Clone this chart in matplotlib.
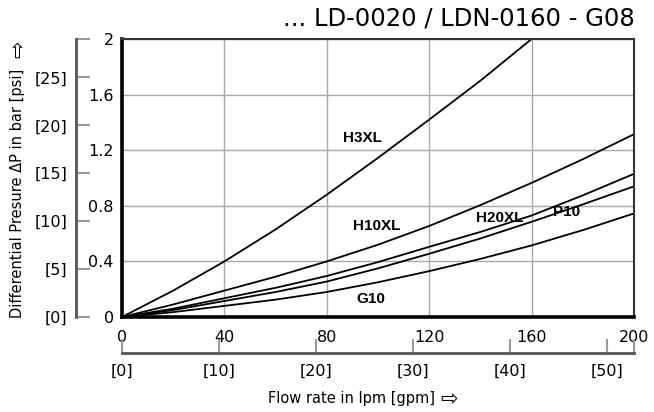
import matplotlib
matplotlib.use("Agg")
import matplotlib.pyplot as plt
from matplotlib.ticker import FixedLocator

# ---- data ----
flow_lpm = [0, 20, 40, 60, 80, 100, 120, 140, 160, 180, 200]
h3xl_flow = [0, 20, 40, 60, 80, 100, 120, 140, 160]
h3xl = [0, 0.19, 0.40, 0.63, 0.88, 1.145, 1.42, 1.70, 2.0]
h10xl = [0, 0.09, 0.19, 0.29, 0.40, 0.52, 0.655, 0.805, 0.965, 1.135, 1.315]
h20xl = [0, 0.06, 0.135, 0.21, 0.295, 0.395, 0.505, 0.612, 0.73, 0.875, 1.03]
p10 = [0, 0.05, 0.115, 0.18, 0.255, 0.35, 0.455, 0.565, 0.685, 0.81, 0.94]
g10 = [0, 0.035, 0.08, 0.125, 0.18, 0.25, 0.33, 0.418, 0.515, 0.625, 0.745]

labels = ["H3XL", "H10XL", "H20XL", "P10", "G10"]
label_pos = [(94, 1.286), (99.6, 0.654), (147.7, 0.711), (173.8, 0.754), (97.3, 0.129)]

x_ticks = [0, 40, 80, 120, 160, 200]
y_ticks = [0, 0.4, 0.8, 1.2, 1.6, 2.0]
y_ticklabels = ["0", "0.4", "0.8", "1.2", "1.6", "2"]
gpm_ticks = [0, 10, 20, 30, 40, 50]
psi_ticks = [0, 5, 10, 15, 20, 25]

title = "... LD-0020 / LDN-0160 - G08"
xlabel = "Flow rate in lpm [gpm]"
ylabel = "Differential Presure \u0394P in bar [psi]"
arrow = "\u21e8"

LPM_PER_GPM = 3.78541
BAR_TO_PSI = 14.5038

W, H = 654, 412
fig = plt.figure(figsize=(W / 100, H / 100), dpi=100)
plt.rcParams['font.family'] = ['DejaVu Sans']

L, R, T, B = 122, 634, 39, 317
ax = fig.add_axes([L / W, (H - B) / H, (R - L) / W, (B - T) / H])
ax.set_xlim(0, 200)
ax.set_ylim(0, 2)

ax.plot(h3xl_flow, h3xl, color='black', lw=1.3)
for ser in (h10xl, h20xl, p10, g10):
    ax.plot(flow_lpm, ser, color='black', lw=1.3)

for lab, (lx, ly) in zip(labels, label_pos):
    ax.text(lx, ly, lab, ha='center', va='center', fontsize=11,
            fontweight='bold', family='Liberation Sans')

ax.set_xticks(x_ticks)
ax.set_xticklabels([str(v) for v in x_ticks])
ax.set_yticks(y_ticks)
ax.set_yticklabels(y_ticklabels)
ax.tick_params(axis='x', length=0, labelsize=11.5, pad=9)
ax.tick_params(axis='y', length=0, labelsize=11.5, pad=6)
ax.grid(True, color='#a8a8a8', lw=1)
ax.set_axisbelow(True)
for s in ('left', 'bottom'):
    ax.spines[s].set_linewidth(2.6)
    ax.spines[s].set_color('black')
for s in ('top', 'right'):
    ax.spines[s].set_linewidth(1.5)
    ax.spines[s].set_color('#333333')

# secondary gpm axis
gy = 353
axg = fig.add_axes([L / W, (H - gy) / H, (R - L) / W, 0.0001])
axg.set_xlim(0, 200 / LPM_PER_GPM)
axg.set_xticks(gpm_ticks)
axg.set_xticklabels(["[%d]" % v for v in gpm_ticks])
axg.xaxis.set_minor_locator(FixedLocator([200 / LPM_PER_GPM]))
axg.set_yticks([])
axg.tick_params(axis='x', which='both', direction='in', length=10, width=1.5,
                color='#9a9a9a', labelsize=11.5, pad=8)
for s in ('top', 'left', 'right'):
    axg.spines[s].set_visible(False)
axg.spines['bottom'].set_color('#555555')
axg.spines['bottom'].set_linewidth(2)
axg.patch.set_visible(False)

# secondary psi axis
px = 76
axp = fig.add_axes([px / W, (H - B) / H, 0.0001, (B - T) / H])
axp.set_ylim(0, 2 * BAR_TO_PSI)
axp.set_yticks(psi_ticks)
axp.set_yticklabels(["[%d]" % v for v in psi_ticks])
axp.yaxis.set_minor_locator(FixedLocator([2 * BAR_TO_PSI]))
axp.set_xticks([])
axp.tick_params(axis='y', which='both', direction='in', length=10, width=1.5,
                color='#9a9a9a', labelsize=11.5, pad=6)
for s in ('top', 'bottom', 'right'):
    axp.spines[s].set_visible(False)
axp.spines['left'].set_color('#555555')
axp.spines['left'].set_linewidth(2)
axp.patch.set_visible(False)

fig.text(635 / W, 1 - 18 / H, title, ha='right', va='center', fontsize=17.5)
# x label with arrow
fig.text(268 / W, 1 - 398 / H, xlabel, ha='left', va='center', fontsize=10.5)
fig.text(440 / W, 1 - 399 / H, arrow, ha='left', va='center', fontsize=15)
# y label with arrow
fig.text(18 / W, 1 - 318 / H, ylabel, ha='center', va='bottom', fontsize=10.5,
         rotation=90)
fig.text(18 / W, 1 - 40 / H, arrow, ha='center', va='top', fontsize=15,
         rotation=90)

fig.savefig("out.png", dpi=100)
